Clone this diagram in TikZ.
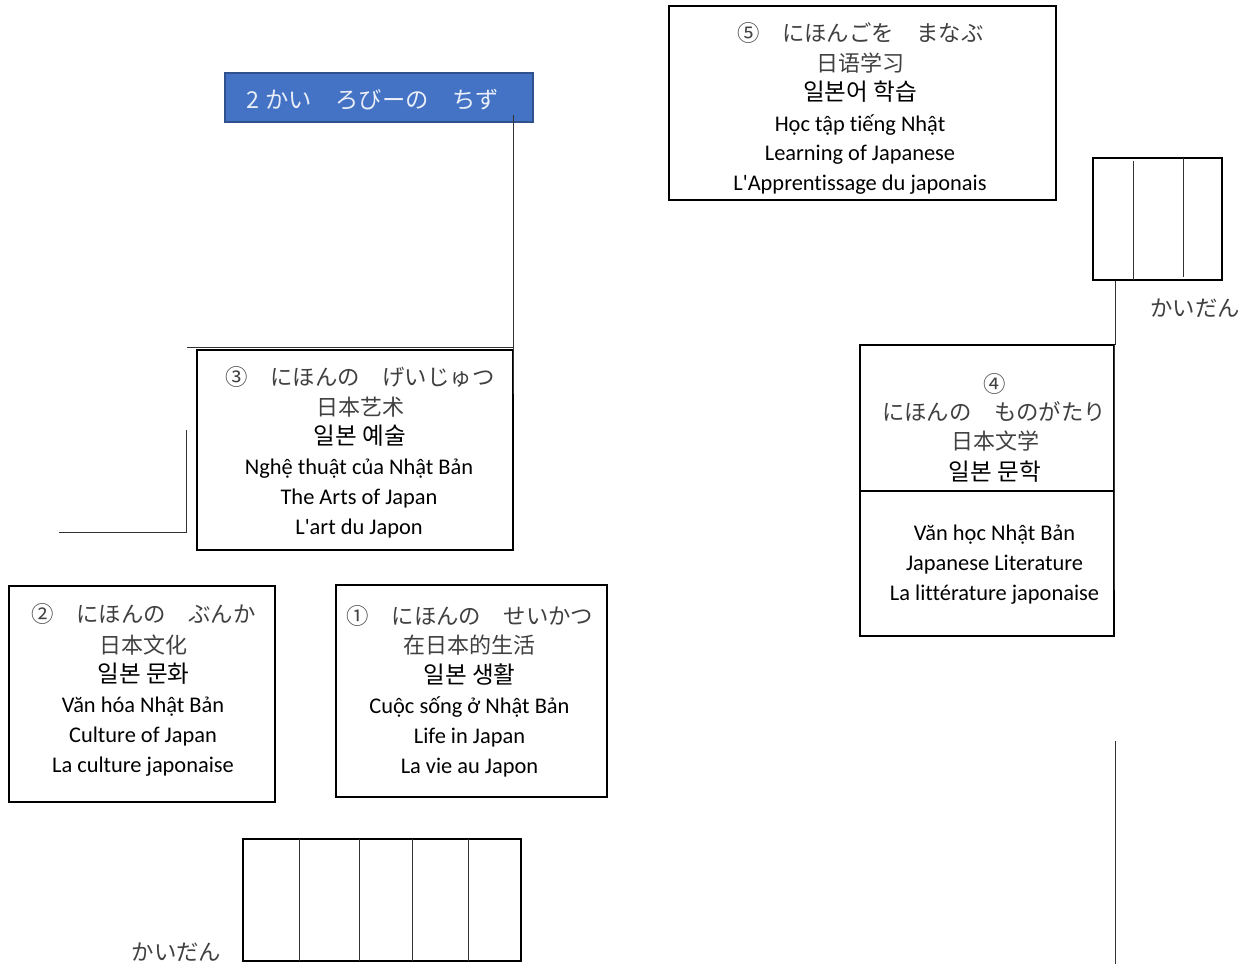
\documentclass[tikz,border=0pt]{standalone}
\usepackage{fontspec}
\setmainfont{Carlito}
\newfontfamily\latf{Carlito}[Ligatures=NoCommon]
\newfontfamily\jpf{Noto Sans CJK JP}
\newfontfamily\scf{Noto Sans CJK SC}
\newfontfamily\krf{Noto Sans CJK KR}
\definecolor{titlefill}{HTML}{4472C4}
\definecolor{titleedge}{HTML}{2F528F}
\definecolor{cjkgray}{HTML}{404040}
\tikzset{
  x=0.75pt,y=-0.75pt,
  roombox/.style={draw=black,line width=1.5pt,fill=none},
  thinline/.style={draw=black!80,line width=0.75pt},
  jpline/.style={anchor=base,inner sep=0pt,text=cjkgray,font=\jpf\fontsize{16.8pt}{20pt}\selectfont},
  scline/.style={anchor=base,inner sep=0pt,text=cjkgray,font=\scf\fontsize{16.5pt}{20pt}\selectfont},
  krline/.style={anchor=base,inner sep=0pt,text=black,font=\krf\fontsize{17.7pt}{20pt}\selectfont},
  laline/.style={anchor=base,inner sep=0pt,text=black,font=\latf\fontsize{16.8pt}{20pt}\selectfont},
  titletext/.style={anchor=base,inner sep=0pt,text=white!88!titlefill,font=\jpf\fontsize{17.5pt}{20pt}\selectfont},
}
\begin{document}
\begin{tikzpicture}
\useasboundingbox (0,0) rectangle (1251,966);
% title
\path[draw=titleedge,fill=titlefill,line width=1.5pt] (225,73) rectangle (533,122);
\node[titletext] (title) at (372.5,109) {2\hspace{5pt}かい　ろびーの　ちず};
% boxes
\draw[roombox] (669,6) rectangle (1056,200);
\draw[roombox] (197,350) rectangle (513,550);
\draw[roombox] (9,586) rectangle (275,802);
\draw[roombox] (336,585) rectangle (607,797);
\draw[roombox] (860,345) rectangle (1114,491);
\draw[roombox] (860,491) rectangle (1114,636);
% stairs right
\draw[roombox] (1093,158) rectangle (1222,280);
\draw[thinline] (1133,161) -- (1133,280);
\draw[thinline] (1183,158) -- (1183,277);
% stairs bottom
\draw[roombox] (243,839) rectangle (521,961);
\foreach \sx in {299,359,412,468} \draw[thinline] (\sx,839) -- (\sx,961);
% free lines
\coordinate (a1) at (513.4,115);
\coordinate (a2) at (513.4,394);
\coordinate (b1) at (187,347);
\coordinate (b2) at (514,347);
\coordinate (c1) at (186.6,430);
\coordinate (c2) at (186.6,532);
\coordinate (c3) at (59,532);
\coordinate (d1) at (1115.6,281);
\coordinate (d2) at (1115.6,345);
\coordinate (d3) at (1114.6,345);
\coordinate (d4) at (1114.6,590);
\coordinate (e1) at (1115.6,741);
\coordinate (e2) at (1115.6,964);
\draw[thinline] (a1) -- (a2);
\draw[thinline] (b1) -- (b2);
\draw[thinline] (c1) -- (c2) -- (c3);
\draw[thinline] (d1) -- (d2);
\draw[thinline] (d3) -- (d4);
\draw[thinline] (e1) -- (e2);
% box 5
\node[jpline] (v1) at (860.5,41.5) {⑤　にほんごを　まなぶ};
\node[scline] (v2) at (860,71.5) {日语学习};
\node[krline] (v3) at (860,100.5) {일본어 학습};
\node[laline] (v4) at (860,132) {Học tập tiếng Nhật};
\node[laline] (v5) at (860,161) {Learning of Japanese};
\node[laline] (v6) at (860,191) {L'Apprentissage du japonais};
% box 3
\node[jpline] (t1) at (360,385) {③　にほんの　げいじゅつ};
\node[scline] (t2) at (360,415) {日本艺术};
\node[krline] (t3) at (360,444) {일본 예술};
\node[laline] (t4) at (359,474.5) {Nghệ thuật của Nhật Bản};
\node[laline] (t5) at (359,504.5) {The Arts of Japan};
\node[laline] (t6) at (359,534.5) {L'art du Japon};
% box 2
\node[jpline] (s1) at (143.5,622) {②　にほんの　ぶんか};
\node[scline] (s2) at (143,653) {日本文化};
\node[krline] (s3) at (143.5,682) {일본 문화};
\node[laline] (s4) at (143,712.5) {Văn hóa Nhật Bản};
\node[laline] (s5) at (143,742.5) {Culture of Japan};
\node[laline] (s6) at (143,772.5) {La culture japonaise};
% box 1
\node[jpline] (o1) at (470,624) {①　にほんの　せいかつ};
\node[scline] (o2) at (469,653) {在日本的生活};
\node[krline] (o3) at (469.5,683) {일본 생활};
\node[laline] (o4) at (469.5,713.5) {Cuộc sống ở Nhật Bản};
\node[laline] (o5) at (469.5,743.5) {Life in Japan};
\node[laline] (o6) at (469.5,773.5) {La vie au Japon};
% box 4
\node[jpline] (f0) at (994.5,392) {④};
\node[jpline] (f1) at (994,420) {にほんの　ものがたり};
\node[scline] (f2) at (995,449) {日本文学};
\node[krline] (f3) at (995,480) {일본 문학};
\node[laline] (f4) at (994.5,540.5) {Văn học Nhật Bản};
\node[laline] (f5) at (994.5,570.5) {Japanese Literature};
\node[laline] (f6) at (994.5,600.5) {La littérature japonaise};
% stair labels
\node[jpline] (k1) at (1195,316) {かいだん};
\node[jpline] (k2) at (176.5,960) {かいだん};
\end{tikzpicture}
\end{document}
